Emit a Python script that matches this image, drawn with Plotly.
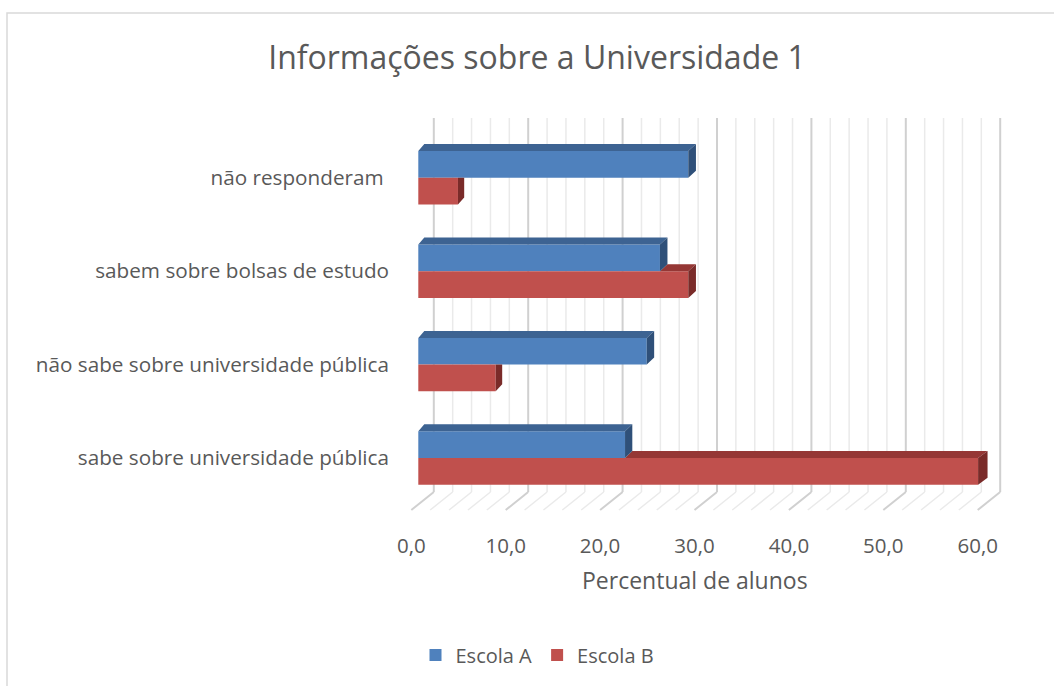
import plotly.graph_objects as go

# Data
categorias = [
    "sabe sobre universidade pública",
    "não sabe sobre universidade pública",
    "sabem sobre bolsas de estudo",
    "não responderam\u00a0",
]
escola_a = [21.9, 24.2, 25.6, 28.6]
escola_b = [59.3, 8.2, 28.6, 4.2]
ticks_x = [0, 10, 20, 30, 40, 50, 60]

# Figure geometry (pixels)
W, H = 1054, 686
L, R, T, B = 400, 34, 100, 166
PX_X = 9.44          # pixels per percentage point at bar depth
X0_PX = 418.3        # pixel position of 0 on the bar plane
PX_Y = 93.4          # pixels between categories
Y0_PX = 458          # pixel centre of the first category

x_range = [(L - X0_PX) / PX_X, (W - R - X0_PX) / PX_X]
y_range = [(Y0_PX - (H - B)) / PX_Y, (Y0_PX - T) / PX_Y]

BAR_H = 26.7 / PX_Y            # thickness of one bar
DY = 7.0 / PX_Y                # vertical depth of the 3D faces
WALL_DX = 15.5 / PX_X          # back wall offset
FLOOR_DX = -7.0 / PX_X         # front floor edge offset
WALL_BOTTOM = (Y0_PX - 492) / PX_Y
WALL_TOP = (Y0_PX - 118) / PX_Y
FLOOR_FRONT = (Y0_PX - 510) / PX_Y


def ddx(v):
    # horizontal depth shift grows slightly to the right (perspective)
    return (6.0 + 3.5 * v / 60.0) / PX_X


BLUE, BLUE_TOP, BLUE_SIDE = "#4F81BD", "#3D6392", "#2F5079"
RED, RED_TOP, RED_SIDE = "#C0504D", "#953735", "#7A2B29"
TEXT = "#595959"
FONT = "Open Sans"

fig = go.Figure()

# Front faces
fig.add_trace(go.Bar(
    name="Escola A", orientation="h",
    x=escola_a, y=[i + BAR_H / 2 for i in range(len(categorias))],
    width=BAR_H, base=0, marker=dict(color=BLUE, line=dict(width=0)),
    hoverinfo="x",
))
fig.add_trace(go.Bar(
    name="Escola B", orientation="h",
    x=escola_b, y=[i - BAR_H / 2 for i in range(len(categorias))],
    width=BAR_H, base=0, marker=dict(color=RED, line=dict(width=0)),
    hoverinfo="x",
))


def poly_trace(polys, color):
    xs, ys = [], []
    for p in polys:
        for (px, py) in p:
            xs.append(px)
            ys.append(py)
        xs.append(p[0][0])
        ys.append(p[0][1])
        xs.append(None)
        ys.append(None)
    return go.Scatter(x=xs, y=ys, fill="toself", fillcolor=color, mode="lines",
                      line=dict(width=0, color=color), showlegend=False,
                      hoverinfo="skip")


red_top, red_side, blue_top, blue_side = [], [], [], []
for i, (a, b) in enumerate(zip(escola_a, escola_b)):
    # red bar: top face only visible beyond the blue bar
    if b > a:
        red_top.append([(a, i), (b, i), (b + ddx(b), i + DY), (a + ddx(a), i + DY)])
        red_side.append([(b, i - BAR_H), (b, i), (b + ddx(b), i + DY),
                         (b + ddx(b), i - BAR_H + DY)])
    else:
        red_side.append([(b, i - BAR_H), (b, i), (b + ddx(b), i),
                         (b + ddx(b), i - BAR_H + DY)])
    yt = i + BAR_H
    blue_top.append([(0, yt), (a, yt), (a + ddx(a), yt + DY), (ddx(0), yt + DY)])
    blue_side.append([(a, i), (a, yt), (a + ddx(a), yt + DY), (a + ddx(a), i + DY)])

fig.add_trace(poly_trace(red_top, RED_TOP))
fig.add_trace(poly_trace(red_side, RED_SIDE))
fig.add_trace(poly_trace(blue_top, BLUE_TOP))
fig.add_trace(poly_trace(blue_side, BLUE_SIDE))

# Back wall and floor grid
shapes = []
for v in range(0, 61, 2):
    major = v % 10 == 0
    ln = dict(color="#D0D0D0" if major else "#EAEAEA", width=2 if major else 1.5)
    shapes.append(dict(type="line", xref="x", yref="y", layer="below",
                       x0=v + WALL_DX, x1=v + WALL_DX, y0=WALL_BOTTOM, y1=WALL_TOP, line=ln))
    shapes.append(dict(type="line", xref="x", yref="y", layer="below",
                       x0=v + FLOOR_DX, x1=v + WALL_DX, y0=FLOOR_FRONT, y1=WALL_BOTTOM, line=ln))

# Chart border
pw, ph = W - L - R, H - T - B
shapes.append(dict(type="rect", xref="paper", yref="paper", layer="below",
                   x0=(7 - L) / pw, x1=(W + 20 - L) / pw,
                   y0=((H - B) - (H + 20)) / ph, y1=((H - B) - 13) / ph,
                   line=dict(color="#D9D9D9", width=1.5), fillcolor="rgba(0,0,0,0)"))

fig.update_layout(
    width=W, height=H,
    margin=dict(l=L, r=R, t=T, b=B),
    paper_bgcolor="white", plot_bgcolor="white",
    barmode="overlay",
    font=dict(family=FONT, color=TEXT),
    title=dict(text="Informações sobre a Universidade 1",
               x=537 / W, xanchor="center", y=1 - 58 / H, yanchor="middle",
               font=dict(size=32, color=TEXT, family=FONT)),
    xaxis=dict(range=x_range, showgrid=False, zeroline=False, showline=False,
               tickmode="array",
               tickvals=[t + FLOOR_DX for t in ticks_x],
               ticktext=[f"{t:.1f}".replace(".", ",") for t in ticks_x],
               ticks="", ticklabelstandoff=11,
               tickfont=dict(size=20.5, color=TEXT, family=FONT), fixedrange=True),
    yaxis=dict(range=y_range, showgrid=False, zeroline=False, showline=False,
               tickmode="array", tickvals=list(range(len(categorias))),
               ticktext=categorias, ticks="", ticklabelstandoff=10,
               tickfont=dict(size=20.7, color=TEXT, family=FONT), fixedrange=True),
    shapes=shapes,
    annotations=[dict(text="Percentual de alunos", xref="x", yref="paper",
                      x=30 + FLOOR_DX, y=((H - B) - 580) / ph,
                      xanchor="center", yanchor="middle", showarrow=False,
                      font=dict(size=23, color=TEXT, family=FONT))],
    legend=dict(orientation="h", x=(537.5 - L) / pw, xanchor="center",
                y=((H - B) - 655) / ph, yanchor="middle",
                font=dict(size=20, color=TEXT, family=FONT),
                traceorder="normal", itemwidth=30),
    showlegend=True,
)

fig.write_html("out.html")
